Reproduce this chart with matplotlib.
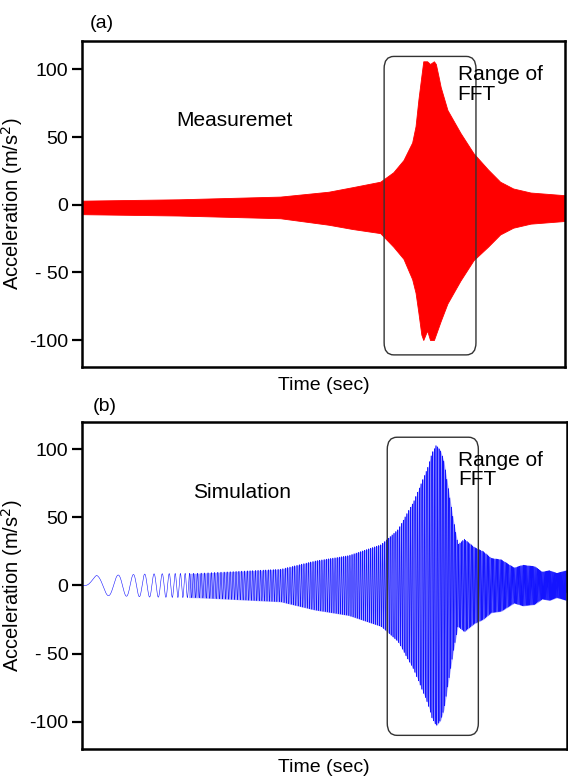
import numpy as np
import matplotlib
matplotlib.use("Agg")
import matplotlib.pyplot as plt
from matplotlib.patches import FancyBboxPatch

plt.rcParams['font.family'] = ['Liberation Sans', 'DejaVu Sans']

# ---- (a) measured response: upper / lower envelope of the dense record ----
t_meas = [0, 20, 41, 51, 56, 61.7, 64.4, 66.5, 68.3, 69.0, 69.6, 70.2, 70.6,
          71.4, 72.0, 72.8, 73.2, 73.8, 74.2, 75.6, 78.3, 81.0, 84.0, 86.5,
          89.2, 92.8, 100]
meas_upper = [3, 4, 6, 9.6, 13, 17, 24, 33, 46, 58, 78, 95, 106,
              106, 104, 106, 104, 94, 87, 70, 53, 38, 26, 17,
              12, 9, 7]
meas_lower = [-7, -8, -10, -14.8, -18, -21, -31, -40, -55, -65, -80, -96, -100,
              -93, -100, -100, -96, -90, -86, -73, -56, -41, -31, -22,
              -17, -14, -12]

# ---- (b) simulated response: amplitude envelope and sweep frequency ----
t_env = [0, 0.6, 3, 6, 14, 24, 41, 48, 55, 61.7, 65.2, 68.5, 71.4, 72.2,
         73.1, 74.0, 74.7, 76.6, 77.6, 78.9, 81.0, 82.8, 84.5, 86.5, 89.2,
         91.0, 93.4, 95.0, 96.5, 98.0, 100]
sim_amp = [0, 0, 7.5, 7.5, 8.5, 9, 12, 18, 22, 30, 41, 62, 87, 97,
           103, 99, 91, 49, 30, 34, 28, 25, 20, 19, 13,
           15, 14, 10, 11, 9, 11]
t_freq = [0, 0.6, 3, 5, 7, 9, 12, 14, 16, 18, 20, 25, 40, 60, 70, 75, 85, 100]
sim_freq = [0.08, 0.08, 0.15, 0.22, 0.26, 0.31, 0.44, 0.52, 0.6, 0.75,
            0.95, 1.4, 2.0, 2.4, 2.8, 3.2, 3.8, 4.5]
sim_start = 0.6
dense_from = 22   # beyond this the sweep is too fast to resolve cycle by cycle

y_ticks = [100, 50, 0, -50, -100]
y_ticklabels = ["100", "50", "0", "- 50", "-100"]
panel_names = ["Measuremet", "Simulation"]
panel_tags = ["(a)", "(b)"]

fig = plt.figure(figsize=(5.68, 7.81), dpi=100)
ax_a = fig.add_axes([0.1444, 0.530, 0.851, 0.4175])
ax_b = fig.add_axes([0.1444, 0.041, 0.853, 0.4187])

# panel (a)
ax_a.fill_between(t_meas, meas_upper, meas_lower, color='#ff0000', lw=0.6,
                  edgecolor='#ff0000')

# panel (b)
t = np.linspace(0, 100, 120000)
f = np.interp(t, t_freq, sim_freq)
dt = t[1] - t[0]
phase = 2 * np.pi * np.cumsum(f) * dt
phase -= np.interp(sim_start, t, phase)
env = np.interp(t, t_env, sim_amp)
sig = env * np.sin(phase)
sig[t < sim_start] = 0.0
mask = t >= dense_from
ax_b.fill_between(t[mask], env[mask], -env[mask], color='#a8a8ff', lw=0)
ax_b.plot(t, sig, color='#1414ff', lw=0.4, alpha=1.0)

boxes = [(62.5, -111, 19.0, 220.6), (63.0, -110, 18.8, 218.8)]
fft_y = [103, 99]
tag_pos = [(0.015, 1.055), (0.023, 1.046)]
ylims = [(-120, 121), (-120, 120)]
for i, ax in enumerate([ax_a, ax_b]):
    ax.set_xlim(0, 100)
    ax.set_ylim(*ylims[i])
    ax.set_yticks(y_ticks)
    ax.set_yticklabels(y_ticklabels)
    ax.set_xticks([])
    ax.tick_params(axis='y', direction='out', length=7, width=1.6,
                   labelsize=14, pad=3)
    for s in ax.spines.values():
        s.set_linewidth(1.8)
    ax.set_ylabel("Acceleration (m/s$^2$)", fontsize=14.5)
    ax.yaxis.set_label_coords(-0.118, 0.5)
    ax.set_xlabel("Time (sec)", fontsize=14, labelpad=7)
    x0, y0, w, h = boxes[i]
    ax.add_patch(FancyBboxPatch((x0, y0), w, h,
                                boxstyle="round,pad=0,rounding_size=2",
                                mutation_aspect=4.5, fill=False,
                                ec='#333333', lw=1.0, zorder=3))
    ax.text(77.7, fft_y[i], "Range of\nFFT", fontsize=15, va='top', ha='left',
            linespacing=1.02, zorder=4)
    ax.text(tag_pos[i][0], tag_pos[i][1], panel_tags[i], transform=ax.transAxes,
            fontsize=14, ha='left', va='center')

ax_a.text(31.5, 62, panel_names[0], fontsize=15, ha='center', va='center')
ax_b.text(33.0, 68, panel_names[1], fontsize=15, ha='center', va='center')

fig.savefig("out.png", dpi=100)
